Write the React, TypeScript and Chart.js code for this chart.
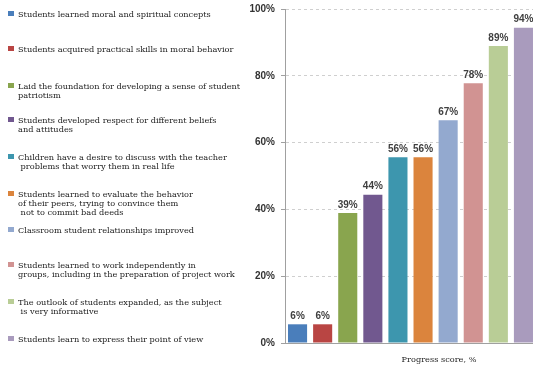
import React, { useEffect, useRef } from "react";
import { Chart, registerables } from "chart.js";

Chart.register(...registerables);

const categories: string[][] = [
  ["Students learned moral and spiritual concepts"],
  ["Students acquired practical skills in moral behavior"],
  ["Laid the foundation for developing a sense of student", "patriotism"],
  ["Students developed respect for different beliefs", "and attitudes"],
  ["Children have a desire to discuss with the teacher", " problems that worry them in real life"],
  ["Students learned to evaluate the behavior", "of their peers, trying to convince them", " not to commit bad deeds"],
  ["Classroom student relationships improved"],
  ["Students learned to work independently in", "groups, including in the preparation of project work"],
  ["The outlook of students expanded, as the subject", " is very informative"],
  ["Students learn to express their point of view"],
];

const values: number[] = [5.6, 5.6, 38.9, 44.4, 55.6, 55.6, 66.7, 77.8, 88.9, 94.4];
const valueLabels: string[] = ["6%", "6%", "39%", "44%", "56%", "56%", "67%", "78%", "89%", "94%"];
const yTicks: number[] = [0, 20, 40, 60, 80, 100];
const xTitle = "Progress score, %";

const colors: string[] = [
  "#4a7ebb", "#b94543", "#89a54e", "#71588f", "#3d96ae",
  "#db843d", "#93a9cf", "#d19392", "#b9cd96", "#a99bbd",
];

// layout (first-line centre of each legend entry)
const legendY: number[] = [15, 50, 87, 121, 158, 195, 231, 266, 303, 340];

export default function App() {
  const ref = useRef<HTMLCanvasElement>(null);
  useEffect(() => {
    if (!ref.current) return;
    const labelPlugin = {
      id: "extras",
      afterDatasetsDraw(chart: any) {
        const ctx = chart.ctx;
        const meta = chart.getDatasetMeta(0);
        ctx.save();
        ctx.font = "bold 10px 'Liberation Sans'";
        ctx.fillStyle = "#404040";
        ctx.textAlign = "center";
        ctx.textBaseline = "bottom";
        meta.data.forEach((el: any, i: number) => {
          ctx.fillText(valueLabels[i], el.x, el.y - 3);
        });
        ctx.restore();
      },
      afterDraw(chart: any) {
        const ctx = chart.ctx;
        ctx.save();
        ctx.font = "8.2px 'DejaVu Serif'";
        ctx.fillStyle = "#222";
        ctx.textAlign = "center";
        ctx.textBaseline = "middle";
        ctx.fillText(xTitle, 439, 360);
        ctx.textAlign = "left";
        categories.forEach((lines, i) => {
          const y0 = legendY[i];
          ctx.fillStyle = colors[i];
          ctx.fillRect(8, y0 - 4, 6, 5);
          ctx.fillStyle = "#222";
          lines.forEach((ln, j) => {
            ctx.fillText(ln, 18, y0 + j * 9);
          });
        });
        ctx.restore();
      },
    };
    const chart = new Chart(ref.current, {
      type: "bar",
      data: {
        labels: categories.map((c) => c.join(" ")),
        datasets: [
          {
            data: values,
            backgroundColor: colors,
            borderWidth: 0,
            barPercentage: 0.76,
            categoryPercentage: 1,
          },
        ],
      },
      options: {
        responsive: false,
        animation: false,
        layout: { padding: { top: 9, right: 0, bottom: 0, left: 0 } },
        plugins: { legend: { display: false }, tooltip: { enabled: false }, title: { display: false } },
        scales: {
          x: {
            ticks: { display: false },
            grid: { display: false },
            border: { display: true, color: "#a0a0a0", width: 1 },
            afterFit(scale: any) {
              scale.height = 27;
              scale.paddingLeft = 0;
              scale.paddingRight = 0;
            },
          },
          y: {
            min: 0,
            max: 100,
            afterBuildTicks(scale: any) {
              scale.ticks = yTicks.map((v) => ({ value: v }));
            },
            ticks: {
              padding: 6,
              color: "#333",
              font: { family: "'Liberation Sans'", size: 10, weight: "bold" },
              callback: (v: any) => v + "%",
            },
            grid: {
              color: (c: any) => (c.tick && c.tick.value === 0 ? "rgba(0,0,0,0)" : "#cfcfcf"),
              tickColor: "#a0a0a0",
              tickLength: 4,
              drawTicks: true,
            },
            border: { display: true, color: "#a0a0a0", width: 1, dash: [3, 3] },
            afterFit(scale: any) {
              scale.width = 285;
              scale.paddingTop = 0;
              scale.paddingBottom = 0;
            },
          },
        },
      },
      plugins: [labelPlugin],
    } as any);
    return () => chart.destroy();
  }, []);
  return (
    <div style={{ position: "absolute", left: 0, top: 0, width: 533, height: 370, overflow: "hidden", background: "#fff" }}>
      <canvas ref={ref} width={536} height={370} style={{ display: "block" }} />
    </div>
  );
}
